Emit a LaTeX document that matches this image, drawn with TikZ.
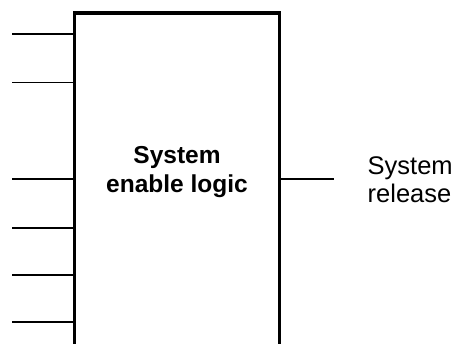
\documentclass[tikz,border=0pt]{standalone}
\usepackage{fontspec}
\setmainfont{Liberation Sans}
\begin{document}
\begin{tikzpicture}[x=1pt,y=-1pt,
  wire/.style={line width=1.6pt},
  blockbox/.style={draw,line width=3.3pt,minimum width=205pt,minimum height=360pt,inner sep=0pt,anchor=north west},
  lbl/.style={align=center,inner sep=0pt}]
\useasboundingbox (0,0) rectangle (458,344);
\clip (0,0) rectangle (458,344);
\node[blockbox] (box) at (72.5,11.3) {};
\node[lbl,font=\fontsize{24.5}{28.3}\selectfont\bfseries] (title) at (177,172) {System\\enable logic};
\foreach \i/\y in {1/34,2/82.5,3/179.3,4/228,5/275,6/322.3}{
  \coordinate (in\i) at (12,\y);
  \draw[wire] (in\i) -- (in\i -| box.west);
}
\coordinate (out) at (334,179.3);
\draw[wire] (out -| box.east) -- (out);
\node[lbl,font=\fontsize{25.5}{28.3}\selectfont,align=left,anchor=west] (rel) at (367.5,180) {System\\release};
\end{tikzpicture}
\end{document}
